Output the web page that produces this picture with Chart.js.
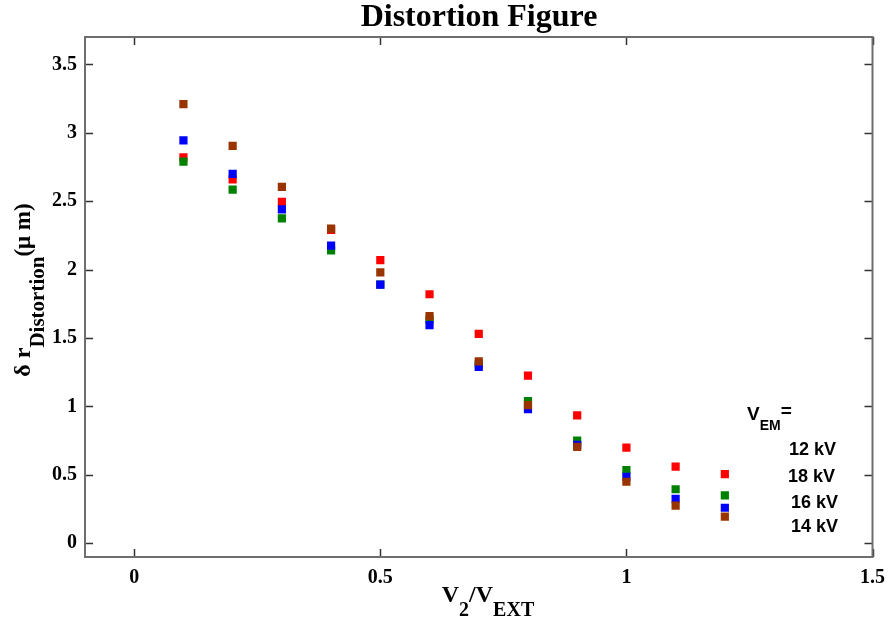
<!DOCTYPE html>
<html>
<head>
<meta charset="utf-8">
<title>Distortion Figure</title>
<script src="https://cdn.jsdelivr.net/npm/chart.js@4.4.1/dist/chart.umd.min.js"></script>
<style>
  html, body { margin: 0; padding: 0; background: #fff; }
  #wrap { width: 894px; height: 626px; }
</style>
</head>
<body>
<div id="wrap"><canvas id="distortion-chart" width="894" height="626"></canvas></div>
<script>
// V2/VEXT ratio (x) and distortion in micrometres (y)
const ratios = [0.1, 0.2, 0.3, 0.4, 0.5, 0.6, 0.7, 0.8, 0.9, 1.0, 1.1, 1.2];
const seriesRed   = [2.82, 2.66, 2.495, 2.29, 2.07, 1.82, 1.53, 1.225, 0.935, 0.70, 0.56, 0.505];
const seriesGreen = [2.79, 2.585, 2.375, 2.14, 1.89, 1.635, 1.31, 1.04, 0.75, 0.535, 0.395, 0.35];
const seriesBlue  = [2.945, 2.70, 2.44, 2.175, 1.89, 1.595, 1.29, 0.98, 0.72, 0.485, 0.325, 0.26];
const seriesBrown = [3.21, 2.905, 2.605, 2.30, 1.98, 1.66, 1.33, 1.01, 0.705, 0.45, 0.275, 0.195];

const xTicks = [0, 0.5, 1, 1.5];
const yTicks = [0, 0.5, 1, 1.5, 2, 2.5, 3, 3.5];
const legendLabels = ['12 kV', '18 kV', '16 kV', '14 kV'];

const SERIF = '"Liberation Serif", "Times New Roman", serif';
const SANS = '"Liberation Sans", Arial, sans-serif';

function toPoints(ys) {
    return ratios.map((x, i) => ({ x: x, y: ys[i] }));
}

function makeSet(label, ys, color) {
    return {
        label: label,
        data: toPoints(ys),
        backgroundColor: color,
        borderColor: color,
        borderWidth: 0,
        pointStyle: 'rect',
        pointRadius: 5.8,
        pointHoverRadius: 5.8,
        showLine: false
    };
}

// draws a run of [text, font, baselineShift] pieces starting at x
function drawPieces(ctx, pieces, x, y) {
    pieces.forEach(p => {
        ctx.font = p[1];
        ctx.fillText(p[0], x, y + p[2]);
        x += ctx.measureText(p[0]).width;
    });
}

function piecesWidth(ctx, pieces) {
    let w = 0;
    pieces.forEach(p => { ctx.font = p[1]; w += ctx.measureText(p[0]).width; });
    return w;
}

// box, inward ticks and all the text decorations
const decorations = {
    id: 'decorations',
    afterDraw(chart) {
        const ctx = chart.ctx;
        const a = chart.chartArea;
        const sx = chart.scales.x, sy = chart.scales.y;
        ctx.save();

        // tick marks on all four sides
        ctx.strokeStyle = '#333';
        ctx.lineWidth = 1.5;
        ctx.beginPath();
        xTicks.forEach(v => {
            const px = Math.round(sx.getPixelForValue(v)) + 0.5;
            ctx.moveTo(px, a.bottom); ctx.lineTo(px, a.bottom - 8);
            ctx.moveTo(px, a.top); ctx.lineTo(px, a.top + 8);
        });
        yTicks.forEach(v => {
            const py = Math.round(sy.getPixelForValue(v)) + 0.5;
            ctx.moveTo(a.left, py); ctx.lineTo(a.left + 8, py);
            ctx.moveTo(a.right, py); ctx.lineTo(a.right - 8, py);
        });
        ctx.stroke();

        // frame
        ctx.strokeStyle = '#6e6e6e';
        ctx.lineWidth = 2;
        ctx.strokeRect(a.left, a.top, a.right - a.left, a.bottom - a.top);

        ctx.fillStyle = '#000';
        ctx.textAlign = 'left';
        ctx.textBaseline = 'alphabetic';

        // title
        ctx.font = 'bold 32px ' + SERIF;
        ctx.textAlign = 'center';
        ctx.fillText('Distortion Figure', 479, 26);
        ctx.textAlign = 'left';

        // x axis title
        const xPieces = [
            ['V', 'bold 24px ' + SERIF, 0],
            ['2', 'bold 20px ' + SERIF, 14],
            ['/V', 'bold 24px ' + SERIF, 0],
            ['EXT', 'bold 20px ' + SERIF, 14]
        ];
        const xw = piecesWidth(ctx, xPieces);
        drawPieces(ctx, xPieces, 488 - xw / 2, 602);

        // y axis title, rotated
        const yPieces = [
            ['\u03b4 r', 'bold 24px ' + SERIF, 0],
            ['Distortion', 'bold 21px ' + SERIF, 14],
            ['(\u03bc m)', 'bold 23px ' + SERIF, 0]
        ];
        const yw = piecesWidth(ctx, yPieces);
        ctx.save();
        ctx.translate(30, 290);
        ctx.rotate(-Math.PI / 2);
        drawPieces(ctx, yPieces, -yw / 2, 0);
        ctx.restore();

        // legend text block
        drawPieces(ctx, [
            ['V', 'bold 19px ' + SANS, 0],
            ['EM', 'bold 14px ' + SANS, 10],
            ['=', 'bold 19px ' + SANS, -3]
        ], 747, 420);
        ctx.font = 'bold 18px ' + SANS;
        const legendPos = [[789, 455], [788, 482], [791, 508], [791, 532]];
        legendLabels.forEach((t, i) => ctx.fillText(t, legendPos[i][0], legendPos[i][1]));

        ctx.restore();
    }
};

const ctx = document.getElementById('distortion-chart');
new Chart(ctx, {
    type: 'scatter',
    data: {
        // first dataset is painted last, so brown ends up on top
        datasets: [
            makeSet('12 kV', seriesBrown, '#993300'),
            makeSet('14 kV', seriesBlue, '#0000ff'),
            makeSet('16 kV', seriesGreen, '#008000'),
            makeSet('18 kV', seriesRed, '#ff0000')
        ]
    },
    options: {
        responsive: false,
        devicePixelRatio: 1,
        animation: false,
        layout: { padding: { left: 0, top: 37, right: 18, bottom: 0 } },
        plugins: {
            legend: { display: false },
            title: { display: false },
            tooltip: { enabled: false }
        },
        scales: {
            x: {
                type: 'linear',
                min: -0.1,
                max: 1.5,
                grid: { display: false, drawTicks: false },
                border: { display: false },
                afterBuildTicks: s => { s.ticks = xTicks.map(v => ({ value: v })); },
                afterFit: s => { s.height = 69; },
                ticks: {
                    padding: 9,
                    color: '#000',
                    callback: v => String(v),
                    font: { family: SERIF, size: 20, weight: 'bold' }
                }
            },
            y: {
                type: 'linear',
                min: -0.1,
                max: 3.7,
                grid: { display: false, drawTicks: false },
                border: { display: false },
                afterBuildTicks: s => { s.ticks = yTicks.map(v => ({ value: v })); },
                afterFit: s => { s.width = 85; },
                ticks: {
                    padding: 8,
                    color: '#000',
                    callback: v => String(v),
                    font: { family: SERIF, size: 20, weight: 'bold' }
                }
            }
        }
    },
    plugins: [decorations]
});
</script>
</body>
</html>
